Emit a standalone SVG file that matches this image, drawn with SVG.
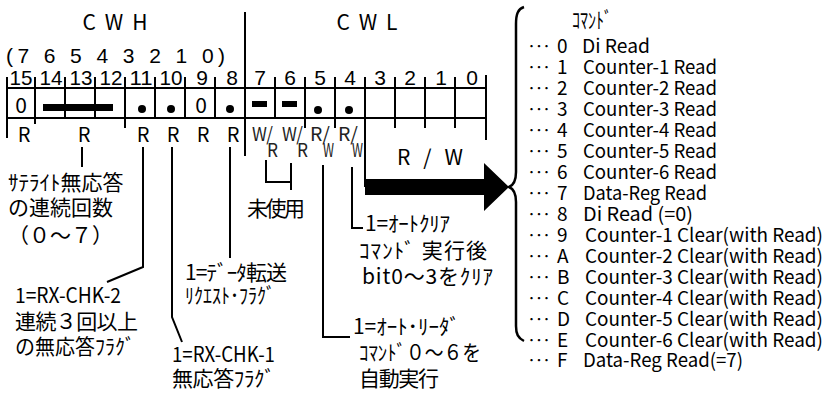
<svg xmlns="http://www.w3.org/2000/svg" width="835" height="393" viewBox="0 0 835 393">
<style>
  text { font-family: "Noto Sans CJK JP", "Noto Sans", sans-serif; fill: #000; }
  .j { font-size: 21px; }
  .hd { font-size: 21px; }
  .lat { font-family: "Liberation Sans", "Noto Sans", sans-serif; }
  .bn { font-family: "Liberation Sans", "Noto Sans", sans-serif; font-size: 21px; text-anchor: middle; }
  .r { font-size: 20px; text-anchor: middle; }
  .wr { font-size: 19px; fill: #222; }
  .li { font-family: "Liberation Sans", "Noto Sans", sans-serif; font-size: 19px; }
  .dt { font-size: 14px; }
  .ln { stroke: #000; stroke-width: 2; fill: none; }
  .br { stroke: #000; stroke-width: 2.5; fill: none; }
</style>

<g id="header">
  <text class="hd" x="115" y="30" text-anchor="middle" textLength="65">C W H</text>
  <text class="hd" x="367" y="30" text-anchor="middle" textLength="61">C W L</text>
  <text class="hd lat" x="6" y="63" textLength="219" lengthAdjust="spacing">(7 6 5 4 3 2 1 0)</text>
  <text class="bn" x="21" y="85" textLength="23" lengthAdjust="spacingAndGlyphs">15</text>
  <text class="bn" x="51" y="85" textLength="23" lengthAdjust="spacingAndGlyphs">14</text>
  <text class="bn" x="81" y="85" textLength="23" lengthAdjust="spacingAndGlyphs">13</text>
  <text class="bn" x="111" y="85" textLength="23" lengthAdjust="spacingAndGlyphs">12</text>
  <text class="bn" x="141" y="85" textLength="23" lengthAdjust="spacingAndGlyphs">11</text>
  <text class="bn" x="171" y="85" textLength="23" lengthAdjust="spacingAndGlyphs">10</text>
  <text class="bn" x="202" y="85">9</text>
  <text class="bn" x="232" y="85">8</text>
  <text class="bn" x="260" y="85">7</text>
  <text class="bn" x="290" y="85">6</text>
  <text class="bn" x="320" y="85">5</text>
  <text class="bn" x="350" y="85">4</text>
  <text class="bn" x="380" y="85">3</text>
  <text class="bn" x="410" y="85">2</text>
  <text class="bn" x="441" y="85">1</text>
  <text class="bn" x="472" y="85">0</text>
</g>

<g id="register">
  <path class="ln" d="M7 88H486 M7 118H486 M7 77V138 M35 77V124 M65 77V118 M95 77V118 M125 77V128 M155 77V118 M185 77V118 M215 77V118 M245 12V156 M275 77V118 M305 77V128 M335 77V128 M365 77V187 M395 77V128 M425 77V128 M455 77V128 M486 75V140"/>
  <text class="hd" x="21" y="113" text-anchor="middle">0</text>
  <rect x="43" y="104" width="70" height="7" fill="#000"/>
  <circle cx="142" cy="109" r="4" fill="#000"/>
  <circle cx="171" cy="109" r="4" fill="#000"/>
  <text class="hd" x="201" y="113" text-anchor="middle">0</text>
  <circle cx="230" cy="109" r="4" fill="#000"/>
  <rect x="252" y="101" width="15" height="6" fill="#000"/>
  <rect x="282" y="101" width="15" height="6" fill="#000"/>
  <circle cx="318" cy="110" r="4" fill="#000"/>
  <circle cx="349" cy="110" r="4" fill="#000"/>
</g>

<g id="access">
  <text class="r" x="24" y="142">R</text>
  <text class="r" x="84" y="142">R</text>
  <text class="r" x="143" y="142">R</text>
  <text class="r" x="173" y="142">R</text>
  <text class="r" x="203" y="142">R</text>
  <text class="r" x="233" y="142">R</text>
  <text class="wr" x="252" y="141" textLength="21" lengthAdjust="spacingAndGlyphs">W/</text>
  <text class="wr" x="267" y="157" textLength="11" lengthAdjust="spacingAndGlyphs">R</text>
  <text class="wr" x="282" y="141" textLength="21" lengthAdjust="spacingAndGlyphs">W/</text>
  <text class="wr" x="297" y="157" textLength="11" lengthAdjust="spacingAndGlyphs">R</text>
  <text class="wr" x="310" y="141" textLength="20" lengthAdjust="spacingAndGlyphs">R/</text>
  <text class="wr" x="323" y="157" textLength="11" lengthAdjust="spacingAndGlyphs">W</text>
  <text class="wr" x="338" y="141" textLength="20" lengthAdjust="spacingAndGlyphs">R/</text>
  <text class="wr" x="352" y="157" textLength="11" lengthAdjust="spacingAndGlyphs">W</text>
  <text class="hd" x="397" y="165" textLength="66" lengthAdjust="spacing">R / W</text>
</g>

<g id="connectors">
  <path class="ln" d="M82 147V167"/>
  <path class="ln" d="M143 147V267L107 282"/>
  <path class="ln" d="M172 147V317L182 342"/>
  <path class="ln" d="M230 147V258"/>
  <path class="ln" d="M266 160V182H291 M291 163V190"/>
  <path class="ln" d="M323 165V337H350"/>
  <path class="ln" d="M352 167V228H363"/>
  <polygon points="365,179 484,179 484,163 509,187 484,211 484,195 365,195" fill="#000"/>
  <path class="br" d="M524 7C518 9 516 14 516 24V172C516 181 514 185 509 187C514 189 516 193 516 202V326C516 334 518 338 524 341"/>
</g>

<g id="note-satellite">
  <text class="j" x="8" y="190">ｻﾃﾗｲﾄ無応答</text>
  <text class="j" x="8" y="215">の連続回数</text>
  <text class="j" x="8" y="243">（０～７）</text>
</g>

<g id="note-unused">
  <text class="j" x="247" y="216" font-size="20" textLength="58">未使用</text>
</g>

<g id="note-autoclear">
  <text class="j" x="365" y="231" textLength="85">1=ｵｰﾄｸﾘｱ</text>
  <text class="j" x="359" y="258" textLength="128">ｺﾏﾝﾄﾞ 実行後</text>
  <text class="j" x="362" y="284" textLength="131" lengthAdjust="spacing">bit0～3をｸﾘｱ</text>
</g>

<g id="note-datatransfer">
  <text class="j" x="185" y="280" textLength="102">1=ﾃﾞｰﾀ転送</text>
  <text class="j" x="185" y="303" textLength="90" lengthAdjust="spacingAndGlyphs">ﾘｸｴｽﾄ･ﾌﾗｸﾞ</text>
</g>

<g id="note-rxchk2">
  <text class="j" x="15" y="303" textLength="106" lengthAdjust="spacingAndGlyphs">1=RX-CHK-2</text>
  <text class="j" x="15" y="329" textLength="123">連続３回以上</text>
  <text class="j" x="15" y="354" textLength="120" lengthAdjust="spacingAndGlyphs">の無応答ﾌﾗｸﾞ</text>
</g>

<g id="note-rxchk1">
  <text class="j" x="172" y="362" textLength="103" lengthAdjust="spacingAndGlyphs">1=RX-CHK-1</text>
  <text class="j" x="172" y="386" textLength="103">無応答ﾌﾗｸﾞ</text>
</g>

<g id="note-autoreader">
  <text class="j" x="353" y="334" textLength="107">1=ｵｰﾄ･ﾘｰﾀﾞ</text>
  <text class="j" x="359" y="360" textLength="122" lengthAdjust="spacingAndGlyphs">ｺﾏﾝﾄﾞ０～６を</text>
  <text class="j" x="359" y="386" textLength="80">自動実行</text>
</g>

<g id="command-list">
  <text x="572" y="28" font-size="22" textLength="40" lengthAdjust="spacingAndGlyphs">ｺﾏﾝﾄﾞ</text>
  <g class="dt">
    <text x="528" y="51" textLength="22" lengthAdjust="spacing">･･･</text>
    <text x="528" y="72" textLength="22" lengthAdjust="spacing">･･･</text>
    <text x="528" y="93" textLength="22" lengthAdjust="spacing">･･･</text>
    <text x="528" y="114" textLength="22" lengthAdjust="spacing">･･･</text>
    <text x="528" y="135" textLength="22" lengthAdjust="spacing">･･･</text>
    <text x="528" y="156" textLength="22" lengthAdjust="spacing">･･･</text>
    <text x="528" y="177" textLength="22" lengthAdjust="spacing">･･･</text>
    <text x="528" y="198" textLength="22" lengthAdjust="spacing">･･･</text>
    <text x="528" y="219" textLength="22" lengthAdjust="spacing">･･･</text>
    <text x="528" y="240" textLength="22" lengthAdjust="spacing">･･･</text>
    <text x="528" y="261" textLength="22" lengthAdjust="spacing">･･･</text>
    <text x="528" y="282" textLength="22" lengthAdjust="spacing">･･･</text>
    <text x="528" y="303" textLength="22" lengthAdjust="spacing">･･･</text>
    <text x="528" y="324" textLength="22" lengthAdjust="spacing">･･･</text>
    <text x="528" y="345" textLength="22" lengthAdjust="spacing">･･･</text>
    <text x="528" y="365" textLength="22" lengthAdjust="spacing">･･･</text>
  </g>
  <g class="li">
    <text x="557" y="53">0</text><text x="582" y="53" textLength="68" lengthAdjust="spacingAndGlyphs">Di Read</text>
    <text x="557" y="74">1</text><text x="583" y="74" textLength="134" lengthAdjust="spacingAndGlyphs">Counter-1 Read</text>
    <text x="557" y="95">2</text><text x="583" y="95" textLength="134" lengthAdjust="spacingAndGlyphs">Counter-2 Read</text>
    <text x="557" y="116">3</text><text x="583" y="116" textLength="134" lengthAdjust="spacingAndGlyphs">Counter-3 Read</text>
    <text x="557" y="137">4</text><text x="583" y="137" textLength="134" lengthAdjust="spacingAndGlyphs">Counter-4 Read</text>
    <text x="557" y="158">5</text><text x="583" y="158" textLength="134" lengthAdjust="spacingAndGlyphs">Counter-5 Read</text>
    <text x="557" y="179">6</text><text x="583" y="179" textLength="134" lengthAdjust="spacingAndGlyphs">Counter-6 Read</text>
    <text x="557" y="200">7</text><text x="583" y="200" textLength="124" lengthAdjust="spacingAndGlyphs">Data-Reg Read</text>
    <text x="557" y="221">8</text><text x="583" y="221" textLength="110" lengthAdjust="spacingAndGlyphs">Di Read (=0)</text>
    <text x="557" y="242">9</text><text x="585" y="242" textLength="238" lengthAdjust="spacingAndGlyphs">Counter-1 Clear(with Read)</text>
    <text x="557" y="263">A</text><text x="585" y="263" textLength="238" lengthAdjust="spacingAndGlyphs">Counter-2 Clear(with Read)</text>
    <text x="557" y="284">B</text><text x="585" y="284" textLength="238" lengthAdjust="spacingAndGlyphs">Counter-3 Clear(with Read)</text>
    <text x="557" y="305">C</text><text x="585" y="305" textLength="238" lengthAdjust="spacingAndGlyphs">Counter-4 Clear(with Read)</text>
    <text x="557" y="326">D</text><text x="585" y="326" textLength="238" lengthAdjust="spacingAndGlyphs">Counter-5 Clear(with Read)</text>
    <text x="557" y="347">E</text><text x="585" y="347" textLength="238" lengthAdjust="spacingAndGlyphs">Counter-6 Clear(with Read)</text>
    <text x="557" y="367">F</text><text x="583" y="367" textLength="160" lengthAdjust="spacingAndGlyphs">Data-Reg Read(=7)</text>
  </g>
</g>
</svg>
